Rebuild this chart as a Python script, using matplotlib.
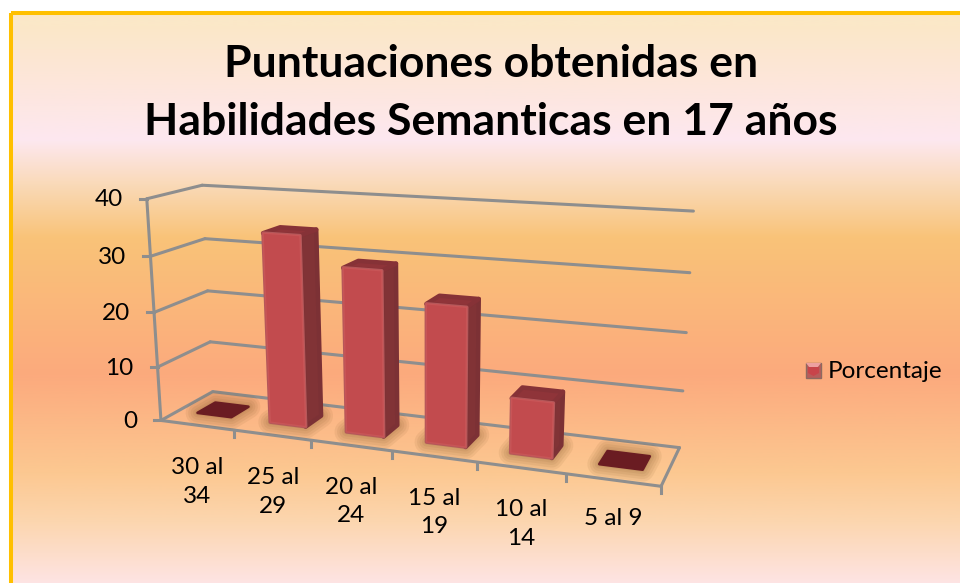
import numpy as np
import matplotlib
matplotlib.use("Agg")
import matplotlib.pyplot as plt
from matplotlib.patches import Polygon, Rectangle

categories = ["30 al\n34", "25 al\n29", "20 al\n24", "15 al\n19", "10 al\n14", "5 al 9"]
values = [0, 34.2, 29.2, 24.2, 9.5, 0]
y_ticks = [0, 10, 20, 30, 40]
title = "Puntuaciones obtenidas en\nHabilidades Semanticas en 17 años"
legend_label = "Porcentaje"

# chart box corners: (category, depth, value) -> (px, py)
box_pts = [
    (0, 0, 0), (0, 0, 10), (0, 0, 20), (0, 0, 30), (0, 0, 40),
    (0, 1, 0), (0, 1, 10), (0, 1, 20), (0, 1, 30), (0, 1, 40),
    (6, 1, 0), (6, 1, 10), (6, 1, 20), (6, 1, 30), (6, 1, 40),
    (1, 0, 0), (2, 0, 0), (3, 0, 0), (4, 0, 0), (5, 0, 0), (6, 0, 0),
]
box_px = [
    (161, 420), (158, 367), (153.5, 312), (150.5, 256), (147, 199),
    (213, 392), (210, 342), (207.5, 291), (205, 239), (202, 185),
    (679, 447), (683, 391), (687, 332), (690, 272), (693, 212),
    (234, 430), (311, 440.5), (392, 451), (477, 462), (566, 474), (661, 487),
]


# least squares fit of the camera, so the box lines and bars share one projection
def fit_camera(pts, px):
    rows = []
    rhs = []
    for (x, d, v), (u, w) in zip(pts, px):
        rows.append([x, d, v, 1, 0, 0, 0, 0, -u * x, -u * d, -u * v])
        rows.append([0, 0, 0, 0, x, d, v, 1, -w * x, -w * d, -w * v])
        rhs += [u, w]
    sol = np.linalg.lstsq(np.array(rows, float), np.array(rhs, float), rcond=None)[0]
    return np.append(sol, 1).reshape(3, 4)


cam = fit_camera(box_pts, box_px)


def proj(x, d, v):
    p = cam @ np.array([x, d, v, 1.0])
    return p[0] / p[2], p[1] / p[2]


fig = plt.figure(figsize=(9.6, 5.83), dpi=100)
ax = fig.add_axes([0, 0, 1, 1])
ax.set_xlim(0, 960)
ax.set_ylim(583, 0)
ax.axis("off")

# background gradient
stops = [14, 60, 130, 175, 230, 370, 470, 520, 583]
reds = [251, 253, 253, 250, 249, 252, 252, 252, 254]
greens = [232, 230, 232, 218, 195, 170, 200, 214, 228]
blues = [200, 215, 240, 185, 120, 125, 145, 175, 228]
yy = np.arange(583)
grad = np.stack([np.interp(yy, stops, c) for c in (reds, greens, blues)], axis=1) / 255
ax.imshow(grad[:, None, :], extent=(11, 960, 583, 12), aspect="auto", zorder=0)
ax.set_xlim(0, 960)
ax.set_ylim(583, 0)
ax.add_patch(Rectangle((11, 12.5), 960, 600, fill=False, ec="#FFC000", lw=2.9, zorder=1))

GRID = "#8e8e8e"
LW = 2.2
FONT = "Lato"
TICK_SIZE = 17.5


def line3d(a, b):
    pa = proj(*a)
    pb = proj(*b)
    ax.plot([pa[0], pb[0]], [pa[1], pb[1]], color=GRID, lw=LW, zorder=2, solid_capstyle="round")


for v in y_ticks:
    line3d((0, 1, v), (6, 1, v))
    line3d((0, 0, v), (0, 1, v))
    # little tick left of the wall
    p = proj(0, 0, v)
    ax.plot([p[0] - 7, p[0]], [p[1], p[1]], color=GRID, lw=LW, zorder=2)
    ax.text(p[0] - 24, p[1] + 1, str(v), ha="right", va="center", fontsize=TICK_SIZE, family=FONT, color="black")
line3d((0, 0, 0), (0, 0, 40))
line3d((0, 0, 0), (6, 0, 0))
line3d((6, 0, 0), (6, 1, 0))

for i in range(1, 7):
    p = proj(i, 0, 0)
    ax.plot([p[0], p[0]], [p[1], p[1] + 7], color=GRID, lw=LW, zorder=2)

# category labels hang from the floor edge
label_nudge = [(0, 57), (1, 57), (0, 56), (0, 56), (0, 56), (0, 39)]
for i, cat in enumerate(categories):
    p = proj(i + 0.5, 0, 0)
    ax.text(p[0] + label_nudge[i][0], p[1] + label_nudge[i][1], cat, ha="center", va="center",
            fontsize=TICK_SIZE, family=FONT, color="black", linespacing=1.45)

BAR_W = 0.235
D0, D1 = 0.33, 0.68


def poly(pts, color, z, edge=None, lw=0, alpha=None):
    ax.add_patch(Polygon(pts, closed=True, fc=color, ec=edge if edge else "none", lw=lw,
                         alpha=alpha, joinstyle="round", zorder=z))


for i, val in enumerate(values):
    x0, x1 = i + 0.5 - BAR_W, i + 0.5 + BAR_W
    z = 3 + i
    foot = [proj(x0, D0, 0), proj(x1, D0, 0), proj(x1, D1, 0), proj(x0, D1, 0)]
    # soft shadow on the floor
    for w in (24, 19, 14, 9, 5):
        ax.add_patch(Polygon(foot, closed=True, fc="#6e4618", ec="#6e4618", lw=w * 0.72, alpha=0.08,
                             joinstyle="round", zorder=z))
    if val == 0:
        poly(foot, "#6a1c22", z + 0.1, "#6a1c22", 2)
        continue
    flb, frb = proj(x0, D0, 0), proj(x1, D0, 0)
    brb = proj(x1, D1, 0)
    flt, frt = proj(x0, D0, val), proj(x1, D0, val)
    brt, blt = proj(x1, D1, val), proj(x0, D1, val)
    # round the faces with a thick edge in the same colour
    poly([frb, brb, brt, frt], "#813336", z + 0.1, "#7c3135", 3.2)
    poly([flt, frt, brt, blt], "#8f3439", z + 0.1, "#863237", 3.2)
    poly([flb, frb, frt, flt], "#bf4a4d", z + 0.2, "#b5585a", 2.6)
    poly([flb, frb, frt, flt], "#c24b4e", z + 0.3, "#c85557", 1)

# legend key with bevel
kx, ky, ks = 806, 363, 15
ax.add_patch(Rectangle((kx, ky), ks, ks, fc="#b85c5a", ec="#8d6a60", lw=1, zorder=10))
poly([(kx, ky), (kx + ks, ky), (kx + ks / 2, ky + ks / 2 + 2)], "#eda0a0", 11)
poly([(kx + 2, ky + 4), (kx + ks - 2, ky + 4), (kx + ks - 2, ky + ks - 5), (kx + ks / 2, ky + ks - 2),
      (kx + 2, ky + ks - 5)], "#c8444a", 12)
ax.text(828, 371, legend_label, ha="left", va="center", fontsize=TICK_SIZE, family=FONT, color="black")

ax.text(491, 93, title, ha="center", va="center", fontsize=32, fontweight="bold", family=FONT,
        color="black", linespacing=1.55)

fig.savefig("out.png", dpi=100)
